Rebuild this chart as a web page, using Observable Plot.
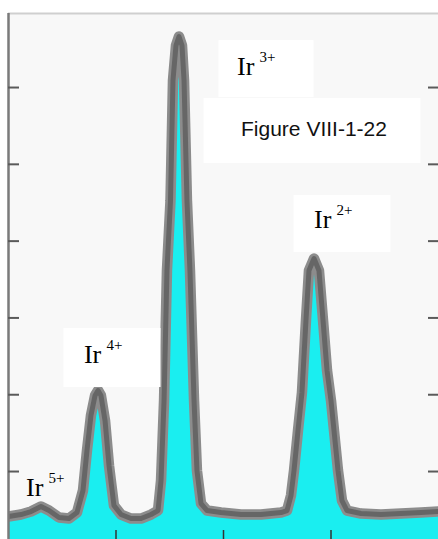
<!DOCTYPE html>
<html>
<head>
<meta charset="utf-8">
<script src="https://cdn.jsdelivr.net/npm/d3@7"></script>
<script src="https://cdn.jsdelivr.net/npm/@observablehq/plot@0.6"></script>
<style>
  html, body { margin: 0; padding: 0; background: #ffffff; }
  svg { display: block; }
</style>
</head>
<body>
<div id="chart"></div>
<script>
// Spectrum trace (arbitrary units)
const position = [0, 1.16, 2.09, 3.02, 3.77, 4.70, 5.63, 6.37, 6.93, 7.30, 7.67, 8.05, 8.33, 8.60, 8.98, 9.35, 9.81, 10.47, 11.40, 12.33, 13.26, 13.91, 14.19, 14.47, 14.74, 15.07, 15.30, 15.58, 15.86, 16.14, 16.33, 16.60, 16.88, 17.26, 17.53, 17.91, 18.47, 19.77, 21.63, 23.49, 25.35, 25.91, 26.28, 26.56, 26.93, 27.30, 27.67, 27.95, 28.42, 28.88, 29.26, 29.63, 30.00, 30.65, 31.02, 31.49, 32.79, 34.65, 36.51, 38.37, 40];
const intensity = [0.414, 0.440, 0.479, 0.544, 0.492, 0.401, 0.388, 0.466, 0.753, 1.273, 1.729, 1.990, 2.055, 1.990, 1.664, 1.078, 0.557, 0.440, 0.388, 0.388, 0.440, 0.492, 0.883, 1.924, 3.617, 4.529, 6.091, 6.547, 6.664, 6.547, 6.091, 4.529, 3.617, 1.924, 1.013, 0.583, 0.492, 0.466, 0.440, 0.440, 0.466, 0.492, 0.688, 1.013, 1.534, 2.029, 2.966, 3.617, 3.773, 3.617, 2.966, 2.315, 1.924, 1.013, 0.622, 0.492, 0.453, 0.440, 0.453, 0.466, 0.479];

// Axis ticks
const xTicks = [10, 20, 30];
const yTicks = [1, 2, 3, 4, 5, 6];
const xDomain = [0, 40];
const yDomain = [0.115, 6.964];

// Peak labels
const labelText = ["Ir", "Ir", "Ir", "Ir"];
const labelCharge = ["5+", "4+", "3+", "2+"];
const labelX = [1.63, 7.02, 21.26, 28.42];
const labelY = [0.796, 2.527, 6.277, 4.285];

// White label boxes
const boxX1 = [5.16, 19.58, 18.19, 26.56];
const boxX2 = [14.19, 28.42, 38.37, 35.58];
const boxY1 = [2.094, 5.869, 5.010, 3.852];
const boxY2 = [2.862, 6.612, 5.856, 4.594];

// Caption
const captionText = ["Figure VIII-1-22"];
const captionX = [21.63];
const captionY = [5.458];

const trace = position.map((x, i) => ({x, y: intensity[i]}));
const labels = labelText.map((t, i) => ({t, c: labelCharge[i], x: labelX[i], y: labelY[i]}));
const boxes = boxX1.map((x1, i) => ({x1, x2: boxX2[i], y1: boxY1[i], y2: boxY2[i]}));
const captions = captionText.map((t, i) => ({t, x: captionX[i], y: captionY[i]}));

const chart = Plot.plot({
  width: 438,
  height: 539,
  marginLeft: 8,
  marginRight: 0,
  marginTop: 13,
  marginBottom: 0,
  style: {background: "#ffffff", overflow: "hidden"},
  x: {domain: xDomain},
  y: {domain: yDomain},
  marks: [
    Plot.frame({fill: "#f8f8f8"}),
    Plot.areaY(trace, {x: "x", y: "y", fill: "#1aeef0", curve: "linear", clip: true}),
    Plot.line(trace, {x: "x", y: "y", stroke: "#8c8c8c", strokeWidth: 10.5, curve: "linear", strokeLinejoin: "round", strokeLinecap: "round", clip: true}),
    Plot.line(trace, {x: "x", y: "y", stroke: "#666666", strokeWidth: 5, curve: "linear", strokeLinejoin: "round", strokeLinecap: "round", clip: true}),
    Plot.rect(boxes, {x1: "x1", x2: "x2", y1: "y1", y2: "y2", fill: "#ffffff"}),
    Plot.text(labels, {x: "x", y: "y", text: "t", textAnchor: "start", fontFamily: "Liberation Serif", fontSize: 26, fill: "#000"}),
    Plot.text(labels, {x: "x", y: "y", text: "c", textAnchor: "start", dx: 22.5, dy: -9, fontFamily: "Liberation Serif", fontSize: 15, fill: "#000"}),
    Plot.text(captions, {x: "x", y: "y", text: "t", textAnchor: "start", fontFamily: "Liberation Sans", fontSize: 21, fill: "#111"}),
    Plot.ruleY([yDomain[1]], {stroke: "#cfcfcf", strokeWidth: 2}),
    Plot.ruleX([xDomain[0]], {stroke: "#7a7a7a", strokeWidth: 2.5}),
    Plot.axisY({ticks: yTicks, anchor: "left", tickSize: -11, tickFormat: () => "", label: null, stroke: "#5a5a5a", strokeWidth: 2}),
    Plot.axisY({ticks: yTicks, anchor: "right", tickSize: -11, tickFormat: () => "", label: null, stroke: "#5a5a5a", strokeWidth: 2}),
    Plot.axisX({ticks: xTicks, anchor: "bottom", tickSize: -9, tickFormat: () => "", label: null, stroke: "#333", strokeWidth: 1.5})
  ]
});
document.getElementById("chart").appendChild(chart);
</script>
</body>
</html>
